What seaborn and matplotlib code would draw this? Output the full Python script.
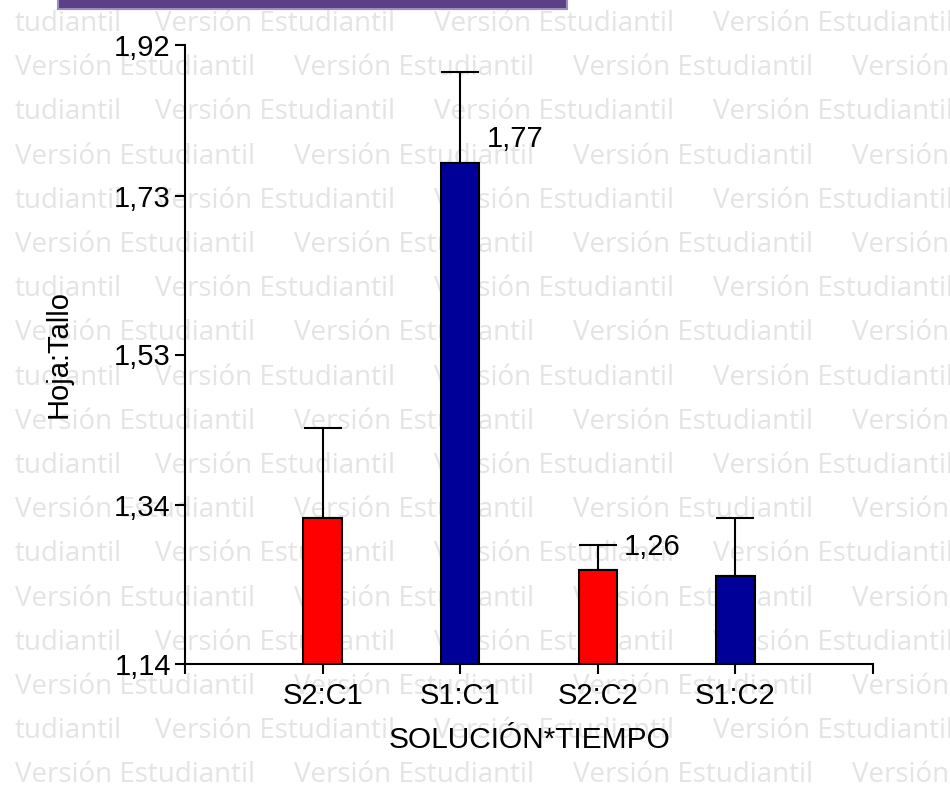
import numpy as np
import matplotlib
matplotlib.use("Agg")
import matplotlib.pyplot as plt
from matplotlib.patches import Rectangle
import seaborn as sns

# datos (InfoStat)
categorias = ["S2:C1", "S1:C1", "S2:C2", "S1:C2"]
medias = [1.324, 1.771, 1.258, 1.251]
errores = [0.114, 0.115, 0.032, 0.073]
colores = ["#ff0000", "#000099", "#ff0000", "#000099"]
etiquetas = ["", "1,77", "1,26", ""]
yticks = [1.14, 1.34, 1.53, 1.73, 1.92]
ytick_labels = ["1,14", "1,34", "1,53", "1,73", "1,92"]

sns.set_style("white")
plt.rcParams["font.family"] = ["Liberation Sans", "DejaVu Sans"]
plt.rcParams["text.color"] = "black"
plt.rcParams["axes.labelcolor"] = "black"

fig = plt.figure(figsize=(9.5, 7.91), dpi=100)
ax = fig.add_axes([185 / 950, 1 - 664 / 791, 688 / 950, 619 / 791])
ax.set_facecolor("none")

# marca de agua "Versión Estudiantil"
paso_x, paso_y = 279, 44.2
wm = dict(family="Open Sans", fontsize=20, color="#e4e4e4", ha="left", va="center",
          zorder=-5)
for k in range(18):
    yy = 1 - (24 + paso_y * k) / 791
    if k % 2:
        x0 = 15
    else:
        fig.text(15 / 950, yy, "tudiantil", **wm)
        x0 = 155
    for j in range(4):
        fig.text((x0 + j * paso_x) / 950, yy, "Versión Estudiantil", **wm)

# banda morada superior
fig.patches.append(Rectangle((58 / 950, 1 - 9 / 791), 509 / 950, 0.02,
                             transform=fig.transFigure, facecolor="#5b3f87",
                             edgecolor="#9d8cc0", lw=1.5, zorder=-4))

sns.barplot(x=categorias, y=medias, hue=categorias, palette=colores, width=0.28,
            saturation=1, edgecolor="black", linewidth=1.5, legend=False, ax=ax,
            zorder=2)

pos = np.arange(len(categorias))
ax.errorbar(pos, medias, yerr=[np.zeros(len(medias)), errores], fmt="none",
            ecolor="black", elinewidth=1.5, capsize=13.7, capthick=1.5, zorder=1)

for i, (m, lab) in enumerate(zip(medias, etiquetas)):
    if lab:
        ax.text(i + 0.19, m + 0.03, lab, fontsize=21, color="black",
                ha="left", va="center")

ax.set_xlim(-1, 4)
ax.set_ylim(1.14, 1.92)
ax.set_yticks(yticks)
ax.set_yticklabels(ytick_labels)
ax.set_xticks(np.arange(-1, len(categorias) + 1))
ax.set_xticklabels([""] + categorias + [""])

for s in ["top", "right"]:
    ax.spines[s].set_visible(False)
for s in ["left", "bottom"]:
    ax.spines[s].set_linewidth(1.5)
    ax.spines[s].set_color("black")

ax.tick_params(axis="both", direction="out", length=7.2, width=1.5, colors="black",
               labelsize=21)
ax.tick_params(axis="y", pad=3, left=True)
ax.tick_params(axis="x", pad=6, bottom=True)

ax.set_xlabel("SOLUCIÓN*TIEMPO", fontsize=21.5, va="top", color="black")
ax.xaxis.set_label_coords(0.5, -0.1)
ax.set_ylabel("Hoja:Tallo", fontsize=21, color="black")
ax.yaxis.set_label_coords(-0.164, 0.5)

fig.savefig("out.png", dpi=100, facecolor="white")
